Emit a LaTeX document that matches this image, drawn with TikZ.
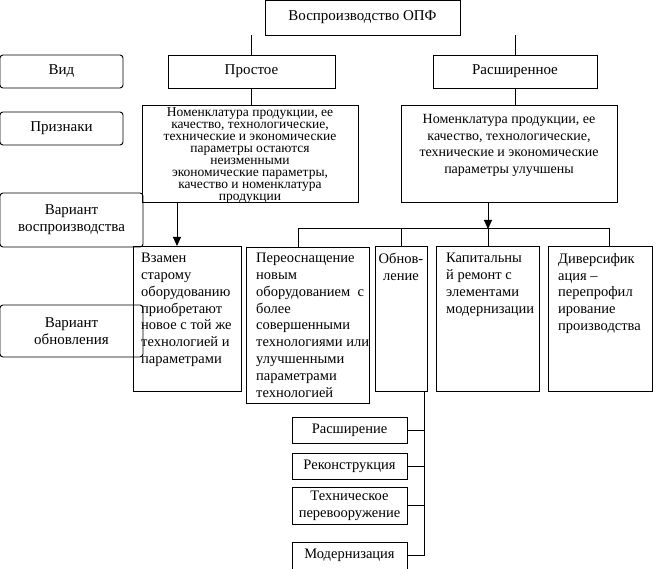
\documentclass[tikz,border=0pt]{standalone}
\usepackage{fontspec}
\setmainfont{Liberation Serif}
\usetikzlibrary{arrows.meta}
\begin{document}
\begin{tikzpicture}[x=1pt,y=-1pt,
 bx/.style={draw,line width=0.9pt,inner sep=1pt,font=\fontsize{15}{16}\selectfont,align=center},
 lb/.style={bx,rounded corners=3pt},
 tl/.style={align=left,anchor=north west,font=\fontsize{14.5}{16.8}\selectfont,inner sep=0pt},
 ln/.style={line width=0.9pt},
 ar/.style={ln,-{Triangle[length=9pt,width=8pt]}}]
\useasboundingbox (0,0) rectangle (664,569);
% label column
\node[lb,minimum width=123pt,minimum height=33pt] (vid) at (61.5,71.5) {Вид};
\node[lb,minimum width=123pt,minimum height=33pt] (priz) at (61.5,128.5) {Признаки};
\node[lb,minimum width=143pt,minimum height=54pt,font=\fontsize{15}{17}\selectfont] (var) at (71.5,220) {Вариант\\воспроизводства};
\node[lb,minimum width=143pt,minimum height=52pt,font=\fontsize{15}{17}\selectfont] (obn) at (71.5,331) {Вариант\\обновления};
% top
\node[bx,minimum width=195pt,minimum height=35pt] (top) at (362.5,17.5) {Воспроизводство ОПФ};
\node[bx,minimum width=167pt,minimum height=33pt] (pr) at (251.5,71.5) {Простое};
\node[bx,minimum width=164pt,minimum height=33pt] (ra) at (515,71.5) {Расширенное};
\draw[ln] (pr.north|-top.south) -- (pr.north);
\draw[ln] (ra.north|-top.south) -- (ra.north);
% signs
\node[bx,minimum width=216pt,minimum height=97pt] (sl) at (250,153.5) {};
\node[font=\fontsize{13.5}{12}\selectfont,align=center,anchor=north,inner sep=0pt] (slt) at (250,107) {Номенклатура продукции, ее\\качество, технологические,\\технические и экономические\\параметры остаются\\неизменными\\экономические параметры,\\качество и номенклатура\\продукции};
\node[bx,minimum width=216pt,minimum height=97pt] (sr) at (509,153.5) {};
\node[font=\fontsize{14}{16.8}\selectfont,align=center,anchor=north,inner sep=0pt] (srt) at (509,114) {Номенклатура продукции, ее\\качество, технологические,\\технические и экономические\\параметры улучшены};
\draw[ln] (pr.south) -- (pr.south|-sl.north);
\draw[ln] (ra.south) -- (ra.south|-sr.north);
% bottom boxes
\draw[ln] (133,246) rectangle (241,391);
\node[tl] (b1) at (141,253) {Взамен\\старому\\оборудованию\\приобретают\\новое с той же\\технологией и\\параметрами};
\draw[ln] (246,247) rectangle (369,403);
\node[tl] (b2) at (256,253) {Переоснащение\\новым\\оборудованием~~с\\более\\совершенными\\технологиями или\\улучшенными\\параметрами\\технологией};
\draw[ln] (375,246) rectangle (427,391);
\node[tl,align=center,anchor=north] (b3) at (401,253) {Обнов-\\ление};
\draw[ln] (436,246) rectangle (539,391);
\node[tl] (b4) at (446,253) {Капитальны\\й ремонт с\\элементами\\модернизации};
\draw[ln] (548,246) rectangle (652,391);
\node[tl] (b5) at (558,253) {Диверсифик\\ация –\\перепрофил\\ирование\\производства};
\coordinate (l1) at (177,202);
\draw[ar] (l1) -- (177,246);
\coordinate (r1) at (488,202);
\draw[ar] (r1) -- (488,229);
\draw[ln] (298,247) -- (298,228) -- (609,228) -- (609,246);
\draw[ln] (401,228) -- (401,246);
\draw[ln] (488,228) -- (488,246);
% sub boxes
\node[bx,minimum width=115pt,minimum height=26pt,font=\fontsize{14.5}{16}\selectfont] (s1) at (349.5,430) {Расширение};
\node[bx,minimum width=115pt,minimum height=26pt,font=\fontsize{14.5}{16}\selectfont] (s2) at (349.5,466) {Реконструкция};
\node[bx,minimum width=115pt,minimum height=37pt,font=\fontsize{14.5}{17}\selectfont] (s3) at (349.5,505.5) {Техническое\\перевооружение};
\node[bx,minimum width=115pt,minimum height=27pt,font=\fontsize{14.5}{16}\selectfont] (s4) at (349.5,555.5) {Модернизация};
\draw[ln] (424,391) -- (424,555.5) -- (s4.east);
\draw[ln] (s1.east) -- (424,430);
\draw[ln] (s2.east) -- (424,466);
\draw[ln] (s3.east) -- (424,505.5);
\end{tikzpicture}
\end{document}
